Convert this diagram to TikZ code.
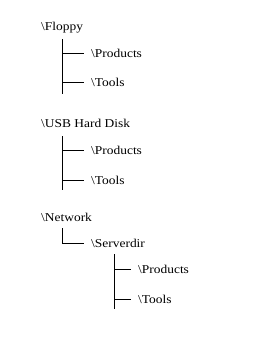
\documentclass[tikz,border=0pt]{standalone}
\usepackage{fontspec}
\setmainfont{Liberation Serif}[FakeStretch=1.12]
\begin{document}
\begin{tikzpicture}[x=1pt,y=-1pt,
  lbl/.style={anchor=base west,inner sep=0pt,font=\fontsize{12}{14}\selectfont},
  tree/.style={draw=black,line width=1pt}]
\useasboundingbox[fill=white] (0,0) rectangle (269,341);
% Floppy
\node[lbl] (floppy) at (41,30) {\textbackslash Floppy};
\coordinate (f0) at (62,39); \coordinate (f3) at (62,94);
\coordinate (f1) at (62,53); \coordinate (f2) at (62,82);
\coordinate (f1e) at (84,53); \coordinate (f2e) at (84,82);
\node[lbl] (fprod) at (91,57) {\textbackslash Products};
\node[lbl] (ftool) at (91,86) {\textbackslash Tools};
\draw[tree] (f0) -- (f3);
\draw[tree] (f1) -- (f1e);
\draw[tree] (f2) -- (f2e);
% USB
\node[lbl] (usb) at (41,127) {\textbackslash USB Hard Disk};
\coordinate (u0) at (62,136); \coordinate (u3) at (62,190);
\coordinate (u1) at (62,150); \coordinate (u2) at (62,180);
\coordinate (u1e) at (84,150); \coordinate (u2e) at (84,180);
\node[lbl] (uprod) at (91,154) {\textbackslash Products};
\node[lbl] (utool) at (91,184) {\textbackslash Tools};
\draw[tree] (u0) -- (u3);
\draw[tree] (u1) -- (u1e);
\draw[tree] (u2) -- (u2e);
% Network
\node[lbl] (net) at (41,221) {\textbackslash Network};
\coordinate (n0) at (62,228); \coordinate (n1) at (62,243);
\coordinate (n1e) at (84,243);
\node[lbl] (srv) at (91,247) {\textbackslash Serverdir};
\draw[tree] (n0) -- (n1) -- (n1e);
\coordinate (s0) at (114,254); \coordinate (s3) at (114,309);
\coordinate (s1) at (114,269); \coordinate (s2) at (114,299);
\coordinate (s1e) at (131,269); \coordinate (s2e) at (131,299);
\node[lbl] (sprod) at (138,273) {\textbackslash Products};
\node[lbl] (stool) at (138,303) {\textbackslash Tools};
\draw[tree] (s0) -- (s3);
\draw[tree] (s1) -- (s1e);
\draw[tree] (s2) -- (s2e);
\end{tikzpicture}
\end{document}
